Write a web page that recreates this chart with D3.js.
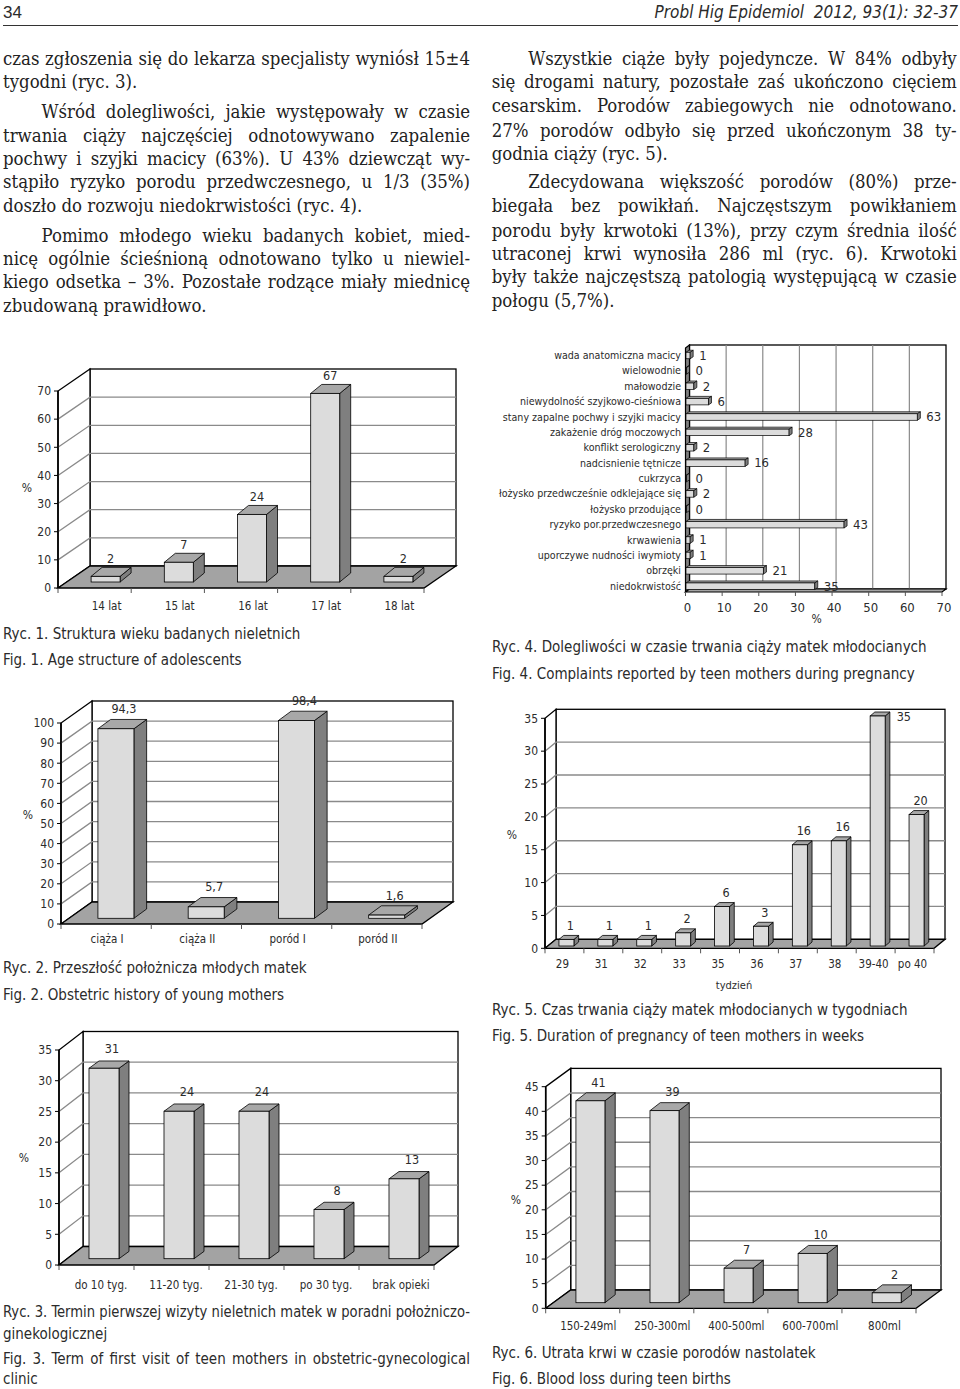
<!DOCTYPE html>
<html>
<head>
<meta charset="utf-8">
<script src="https://cdn.jsdelivr.net/npm/d3@7"></script>
<style>
body{margin:0;background:#fff}
svg{display:block}
</style>
</head>
<body>
<script>
// --- chart data ---
const ageCats = ['14 lat','15 lat','16 lat','17 lat','18 lat'];
const ageVals = [2,7,24,67,2];
const ageTicks = [0,10,20,30,40,50,60,70];

const historyCats = ['ciąża I','ciąża II','poród I','poród II'];
const historyVals = [94.3,5.7,98.4,1.6];
const historyLabels = ['94,3','5,7','98,4','1,6'];
const historyTicks = [0,10,20,30,40,50,60,70,80,90,100];

const visitCats = ['do 10 tyg.','11-20 tyg.','21-30 tyg.','po 30 tyg.','brak opieki'];
const visitVals = [31,24,24,8,13];
const visitTicks = [0,5,10,15,20,25,30,35];

const complaintCats = ['wada anatomiczna macicy','wielowodnie','małowodzie','niewydolność szyjkowo-cieśniowa',
  'stany zapalne pochwy i szyjki macicy','zakażenie dróg moczowych','konflikt serologiczny','nadcisnienie tętnicze',
  'cukrzyca','łożysko przedwcześnie odklejające się','łożysko przodujące','ryzyko por.przedwczesnego',
  'krwawienia','uporczywe nudności iwymioty','obrzęki','niedokrwistość'];
const complaintVals = [1,0,2,6,63,28,2,16,0,2,0,43,1,1,21,35];
const complaintTicks = [0,10,20,30,40,50,60,70];

const weekCats = ['29','31','32','33','35','36','37','38','39-40','po 40'];
const weekVals = [1,1,1,2,6,3,15.4,16,35,20];
const weekLabels = ['1','1','1','2','6','3','16','16','35','20'];
const weekTicks = [0,5,10,15,20,25,30,35];

const bloodCats = ['150-249ml','250-300ml','400-500ml','600-700ml','800ml'];
const bloodVals = [41,39,7,10,2];
const bloodTicks = [0,5,10,15,20,25,30,35,40,45];

const W = 960, H = 1389;
const SANS = "'DejaVu Sans Condensed','DejaVu Sans',sans-serif";
const SERIF = "'DejaVu Serif Condensed','DejaVu Serif','Liberation Serif',serif";
const INK = '#2b2b2b';

const svg = d3.select('body').append('svg').attr('width',W).attr('height',H);

// --- running head ---
svg.append('text').text('34').attr('x',3).attr('y',18)
  .style('font-family',"'Liberation Sans',sans-serif").style('font-size','17px').style('fill',INK);
svg.append('text').text('Probl Hig Epidemiol  2012, 93(1): 32-37')
  .attr('x',958).attr('y',18).attr('text-anchor','end')
  .style('font-family',SANS).style('font-style','italic').style('font-size','17px').style('fill',INK)
  .attr('xml:space','preserve');
svg.append('line').attr('x1',3).attr('x2',958).attr('y1',25.5).attr('y2',25.5)
  .attr('stroke','#333').attr('stroke-width',1);

// --- justified text helper ---
function justify(sel, width) {
  sel.each(function() {
    const t = d3.select(this);
    const nat = this.getComputedTextLength();
    const n = (t.text().match(/ /g) || []).length;
    const extra = width - nat;
    if (extra < 0) t.attr('textLength', width).attr('lengthAdjust', 'spacingAndGlyphs');
    else if (n) t.style('word-spacing', (extra / n) + 'px');
  });
}

// body size chosen so the tightly-set first line fills the column
const probe = svg.append('text').text('czas zgłoszenia się do lekarza specjalisty wyniósł 15±4')
  .style('font-family',SERIF).style('font-size','20px');
const bodySize = 20 * 464 / probe.node().getComputedTextLength();
probe.remove();

function column(lines, x0, x1, indent) {
  lines.forEach(l => {
    const x = l.ind ? x0 + indent : x0;
    const t = svg.append('text').text(l.s).attr('x',x).attr('y',l.y)
      .style('font-family',SERIF).style('font-size',bodySize + 'px').style('fill','#222');
    if (!l.last) justify(t, x1 - x);
  });
}

column([
  {s:'czas zgłoszenia się do lekarza specjalisty wyniósł 15±4', y:65},
  {s:'tygodni (ryc. 3).', y:88.3, last:true},
  {s:'Wśród dolegliwości, jakie występowały w czasie', y:118.3, ind:true},
  {s:'trwania ciąży najczęściej odnotowywano zapalenie', y:141.7},
  {s:'pochwy i szyjki macicy (63%). U 43% dziewcząt wy-', y:165},
  {s:'stąpiło ryzyko porodu przedwczesnego, u 1/3 (35%)', y:188.3},
  {s:'doszło do rozwoju niedokrwistości (ryc. 4).', y:211.7, last:true},
  {s:'Pomimo młodego wieku badanych kobiet, mied-', y:241.7, ind:true},
  {s:'nicę ogólnie ścieśnioną odnotowano tylko u niewiel-', y:265},
  {s:'kiego odsetka – 3%. Pozostałe rodzące miały miednicę', y:288.3},
  {s:'zbudowaną prawidłowo.', y:311.7, last:true}
], 3, 470, 38.5);

column([
  {s:'Wszystkie ciąże były pojedyncze. W 84% odbyły', y:65, ind:true},
  {s:'się drogami natury, pozostałe zaś ukończono cięciem', y:88.3},
  {s:'cesarskim. Porodów zabiegowych nie odnotowano.', y:111.7},
  {s:'27% porodów odbyło się przed ukończonym 38 ty-', y:136.7},
  {s:'godnia ciąży (ryc. 5).', y:160, last:true},
  {s:'Zdecydowana większość porodów (80%) prze-', y:188.3, ind:true},
  {s:'biegała bez powikłań. Najczęstszym powikłaniem', y:211.7},
  {s:'porodu były krwotoki (13%), przy czym średnia ilość', y:236.7},
  {s:'utraconej krwi wynosiła 286 ml (ryc. 6). Krwotoki', y:260},
  {s:'były także najczęstszą patologią występującą w czasie', y:283.3},
  {s:'połogu (5,7%).', y:306.7, last:true}
], 491.7, 956.7, 36.6);

// --- 3D column chart (Excel style, oblique projection) ---
const FRONT = '#dcdcdc', TOP = '#a8a8a8', SIDE = '#7f7f7f', FLOOR = '#a3a3a3', GRID = '#8a8a8a';

function col3d(o) {
  const g = svg.append('g');
  const y = d3.scaleLinear().domain([0, o.max]).range([o.y0, o.y0 - o.h]);
  const x = d3.scaleBand().domain(o.cats).range([o.x0, o.x0 + o.w]);
  const {dx, dy} = o;
  const top = y(o.max);

  // back wall
  g.append('rect').attr('x', o.x0 + dx).attr('y', top + dy)
    .attr('width', o.w).attr('height', o.h)
    .attr('fill', '#fff').attr('stroke', '#000').attr('stroke-width', 1.3);
  // left wall
  g.append('path').attr('d', d3.line()([[o.x0, o.y0], [o.x0 + dx, o.y0 + dy], [o.x0 + dx, top + dy], [o.x0, top]]) + 'Z')
    .attr('fill', '#fff').attr('stroke', '#000').attr('stroke-width', 1.3);
  // gridlines: diagonal on side wall, horizontal on back wall
  g.selectAll('.grid').data(o.ticks.filter(t => t > 0 && t < o.max)).enter().append('path')
    .attr('d', t => d3.line()([[o.x0, y(t)], [o.x0 + dx, y(t) + dy], [o.x0 + dx + o.w, y(t) + dy]]))
    .attr('fill', 'none').attr('stroke', GRID).attr('stroke-width', 1.3);
  // floor
  g.append('path').attr('d', d3.line()([[o.x0, o.y0], [o.x0 + o.w, o.y0], [o.x0 + o.w + dx, o.y0 + dy], [o.x0 + dx, o.y0 + dy]]) + 'Z')
    .attr('fill', FLOOR).attr('stroke', '#000').attr('stroke-width', 1.3);
  // value axis
  g.append('line').attr('x1', o.x0).attr('x2', o.x0).attr('y1', o.y0).attr('y2', top)
    .attr('stroke', '#000').attr('stroke-width', 1.6);
  g.selectAll('.ytk').data(o.ticks).enter().append('line')
    .attr('x1', o.x0 - 4).attr('x2', o.x0).attr('y1', t => y(t)).attr('y2', t => y(t))
    .attr('stroke', '#000').attr('stroke-width', 1);
  g.selectAll('.ylab').data(o.ticks).enter().append('text')
    .attr('x', o.x0 - 7).attr('y', t => y(t) + 4.3).attr('text-anchor', 'end')
    .text(d => d).style('font-family', SANS).style('font-size', '12px').style('fill', INK);
  // category ticks
  const bounds = o.cats.map(c => x(c)).concat([o.x0 + o.w]);
  g.selectAll('.xtk').data(bounds).enter().append('line')
    .attr('x1', d => d).attr('x2', d => d).attr('y1', o.y0).attr('y2', o.y0 + 5)
    .attr('stroke', '#555').attr('stroke-width', 1);

  // bars
  const bars = g.selectAll('.bar').data(o.vals).enter().append('g');
  const fx = (d, i) => x(o.cats[i]) + x.bandwidth() / 2 - o.bw / 2 + o.sx;
  const by = o.y0 + o.sy;
  const ty = d => y(d) + o.sy;
  bars.append('path')
    .attr('d', (d, i) => { const a = fx(d, i) + o.bw; return d3.line()([[a, ty(d)], [a + o.bdx, ty(d) + o.bdy], [a + o.bdx, by + o.bdy], [a, by]]) + 'Z'; })
    .attr('fill', SIDE).attr('stroke', '#000').attr('stroke-width', 0.8);
  bars.append('path')
    .attr('d', (d, i) => { const a = fx(d, i); return d3.line()([[a, ty(d)], [a + o.bw, ty(d)], [a + o.bw + o.bdx, ty(d) + o.bdy], [a + o.bdx, ty(d) + o.bdy]]) + 'Z'; })
    .attr('fill', TOP).attr('stroke', '#000').attr('stroke-width', 0.8);
  bars.append('rect')
    .attr('x', fx).attr('y', ty).attr('width', o.bw).attr('height', d => by - ty(d))
    .attr('fill', FRONT).attr('stroke', '#000').attr('stroke-width', 0.8);
  // value labels (a bar reaching the top gets its label at the side)
  bars.append('text')
    .attr('x', (d, i) => d >= o.max ? fx(d, i) + o.bw + o.bdx + 14 : fx(d, i) + o.bw / 2 + o.vlx)
    .attr('y', d => d >= o.max ? ty(d) + 5 : ty(d) + o.bdy - o.vly + 4.3)
    .attr('text-anchor', 'middle')
    .text((d, i) => o.labels[i])
    .style('font-family', SANS).style('font-size', '12.5px').style('fill', INK);
  // category labels
  g.selectAll('.xlab').data(o.cats).enter().append('text')
    .attr('x', c => x(c) + x.bandwidth() / 2 + o.lx).attr('y', o.y0 + o.ly)
    .attr('text-anchor', 'middle').text(c => c)
    .style('font-family', SANS).style('font-size', '11.5px').style('fill', INK);
  g.append('text').attr('x', o.pct[0]).attr('y', o.pct[1] + 4.3).attr('text-anchor', 'middle').text('%')
    .style('font-family', SANS).style('font-size', '12px').style('fill', INK);
  if (o.xtitle) g.append('text').attr('x', o.xtitle[0]).attr('y', o.xtitle[1]).attr('text-anchor', 'middle')
    .text(o.xtitle[2]).style('font-family', SANS).style('font-size', '11px').style('fill', INK);
}

col3d({cats: ageCats, vals: ageVals, labels: ageVals.map(String), ticks: ageTicks, max: 70,
  x0: 58, y0: 588, w: 366, h: 197, dx: 32, dy: -22, bw: 29, sx: 11, sy: -6, bdx: 11, bdy: -9,
  lx: 12, ly: 22, pct: [27, 488], vlx: 5, vly: 9});

col3d({cats: historyCats, vals: historyVals, labels: historyLabels, ticks: historyTicks, max: 100,
  x0: 61, y0: 924, w: 361, h: 201, dx: 31, dy: -22, bw: 36, sx: 9.8, sy: -5.7, bdx: 12.7, bdy: -9.3,
  lx: 1, ly: 18.5, pct: [28, 815], vlx: 8, vly: 10.5});

col3d({cats: visitCats, vals: visitVals, labels: visitVals.map(String), ticks: visitTicks, max: 35,
  x0: 59, y0: 1265, w: 375, h: 215, dx: 24, dy: -18.5, bw: 30, sx: 7.5, sy: -6.3, bdx: 10, bdy: -7.3,
  lx: 4.5, ly: 23.5, pct: [24, 1158], vlx: 8, vly: 12});

col3d({cats: weekCats, vals: weekVals, labels: weekLabels, ticks: weekTicks, max: 35,
  x0: 545, y0: 948.3, w: 389, h: 230, dx: 11, dy: -9, bw: 15, sx: 2, sy: -2.3, bdx: 4.7, bdy: -4,
  lx: -2, ly: 20, pct: [512, 835], vlx: 4, vly: 10, xtitle: [734, 988.5, 'tydzień']});

col3d({cats: bloodCats, vals: bloodVals, labels: bloodVals.map(String), ticks: bloodTicks, max: 45,
  x0: 545.7, y0: 1308.3, w: 370.3, h: 221.6, dx: 25, dy: -18.3, bw: 29, sx: 7.7, sy: -5.6, bdx: 10.3, bdy: -8,
  lx: 5.5, ly: 22, pct: [516, 1200], vlx: 8, vly: 10.5});

// --- horizontal 3D bar chart (ryc. 4) ---
(function() {
  const g = svg.append('g');
  const fx0 = 685.5, bx0 = 689.5, bx1 = 946, yt = 345, yb = 589, ddx = 4, ddy = 3;
  const xb = d3.scaleLinear().domain([0, 70]).range([bx0, bx1]);
  const xf = v => xb(v) - ddx;
  const yc = d3.scalePoint().domain(complaintCats).range([355, 585.7]);

  g.append('rect').attr('x', bx0).attr('y', yt).attr('width', bx1 - bx0).attr('height', yb - yt)
    .attr('fill', '#fff').attr('stroke', '#000').attr('stroke-width', 1.3);
  g.selectAll('.vg').data(complaintTicks.filter(t => t > 0 && t < 70)).enter().append('line')
    .attr('x1', t => xb(t)).attr('x2', t => xb(t)).attr('y1', yt).attr('y2', yb)
    .attr('stroke', GRID).attr('stroke-width', 1.2);
  // left wall
  g.append('path').attr('d', d3.line()([[fx0, yt + ddy], [bx0, yt], [bx0, yb], [fx0, yb + ddy]]) + 'Z')
    .attr('fill', SIDE).attr('stroke', '#000').attr('stroke-width', 1.2);
  // floor
  g.append('path').attr('d', d3.line()([[fx0, yb + ddy], [xf(70), yb + ddy], [bx1, yb], [bx0, yb]]) + 'Z')
    .attr('fill', FLOOR).attr('stroke', '#000').attr('stroke-width', 1.2);
  g.selectAll('.xtk').data(complaintTicks).enter().append('line')
    .attr('x1', t => xf(t)).attr('x2', t => xf(t)).attr('y1', yb + ddy).attr('y2', yb + ddy + 4)
    .attr('stroke', '#555');

  const bh = 6.5;
  const bars = g.selectAll('.hb').data(complaintVals).enter().append('g');
  const cy = (d, i) => yc(complaintCats[i]);
  bars.append('path')
    .attr('d', (d, i) => { const y0 = cy(d, i) - bh / 2 + 0.5, x1 = xf(d) + 1;
      return d3.line()([[fx0 + 0.5, y0], [x1, y0], [x1 + 3, y0 - 2], [fx0 + 3.5, y0 - 2]]) + 'Z'; })
    .attr('fill', TOP).attr('stroke', '#000').attr('stroke-width', 0.7);
  bars.append('rect')
    .attr('x', fx0 + 0.5).attr('y', (d, i) => cy(d, i) - bh / 2 + 0.5)
    .attr('width', d => Math.max(xf(d) + 1 - fx0 - 0.5, 0.5)).attr('height', bh)
    .attr('fill', FRONT).attr('stroke', '#000').attr('stroke-width', 0.7);
  bars.append('path')
    .attr('d', (d, i) => { const y0 = cy(d, i) - bh / 2 + 0.5, x1 = xf(d) + 1;
      return d3.line()([[x1, y0], [x1 + 3, y0 - 2], [x1 + 3, y0 + bh - 2], [x1, y0 + bh]]) + 'Z'; })
    .attr('fill', SIDE).attr('stroke', '#000').attr('stroke-width', 0.7);
  bars.append('text').attr('x', d => xf(d) + 10).attr('y', (d, i) => cy(d, i) + 4.8)
    .text(d => d).style('font-family', SANS).style('font-size', '13px').style('fill', INK);

  g.selectAll('.cl').data(complaintCats).enter().append('text')
    .attr('x', 681).attr('y', c => yc(c) + 4).attr('text-anchor', 'end').text(c => c)
    .style('font-family', SANS).style('font-size', '10.6px').style('fill', INK);
  g.selectAll('.xl').data(complaintTicks).enter().append('text')
    .attr('x', t => xb(t) - 2).attr('y', 611.5).attr('text-anchor', 'middle').text(t => t)
    .style('font-family', SANS).style('font-size', '13px').style('fill', INK);
  g.append('text').attr('x', 816.7).attr('y', 623).attr('text-anchor', 'middle').text('%')
    .style('font-family', SANS).style('font-size', '12px').style('fill', INK);
})();

// --- figure captions ---
const captions = [
  {s:'Ryc. 1. Struktura wieku badanych nieletnich', x:3, y:638.5},
  {s:'Fig. 1. Age structure of adolescents', x:3, y:665},
  {s:'Ryc. 4. Dolegliwości w czasie trwania ciąży matek młodocianych', x:492, y:651.5},
  {s:'Fig. 4. Complaints reported by teen mothers during pregnancy', x:492, y:678.5},
  {s:'Ryc. 2. Przeszłość położnicza młodych matek', x:3, y:973},
  {s:'Fig. 2. Obstetric history of young mothers', x:3, y:999.5},
  {s:'Ryc. 5. Czas trwania ciąży matek młodocianych w tygodniach', x:492, y:1014.5},
  {s:'Fig. 5. Duration of pregnancy of teen mothers in weeks', x:492, y:1040.5},
  {s:'Ryc. 3. Termin pierwszej wizyty nieletnich matek w poradni położniczo-', x:3, y:1317, just:467},
  {s:'ginekologicznej', x:3, y:1338.5},
  {s:'Fig. 3. Term of first visit of teen mothers in obstetric-gynecological', x:3, y:1363.5, just:467},
  {s:'clinic', x:3, y:1384},
  {s:'Ryc. 6. Utrata krwi w czasie porodów nastolatek', x:492, y:1357.5},
  {s:'Fig. 6. Blood loss during teen births', x:492, y:1383.5}
];
captions.forEach(c => {
  const t = svg.append('text').text(c.s).attr('x', c.x).attr('y', c.y)
    .style('font-family', SANS).style('font-size', '15px').style('fill', INK);
  if (c.just) justify(t, c.just);
});
</script>
</body>
</html>
